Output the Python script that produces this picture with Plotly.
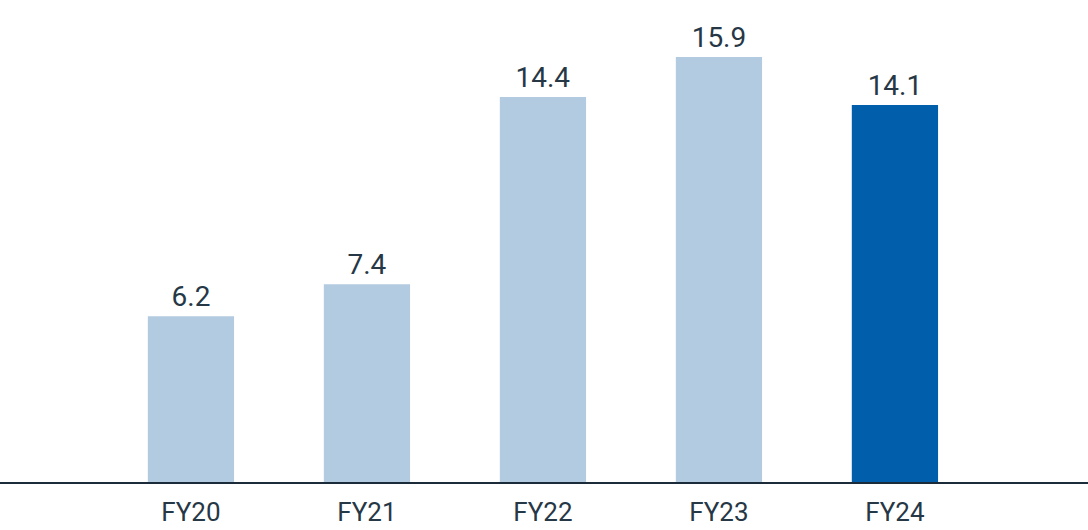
import plotly.graph_objects as go

years = ['FY20', 'FY21', 'FY22', 'FY23', 'FY24']
values = [6.2, 7.4, 14.4, 15.9, 14.1]
labels = ['6.2', '7.4', '14.4', '15.9', '14.1']
bar_colors = ['#b3cbe1', '#b3cbe1', '#b3cbe1', '#b3cbe1', '#005eab']

text_color = '#263746'

fig = go.Figure(go.Bar(
    x=list(range(len(years))),
    y=values,
    text=labels,
    textposition='outside',
    textfont=dict(family='Roboto', size=28, color=text_color),
    marker=dict(color=bar_colors, line=dict(width=0)),
    width=0.49,
    cliponaxis=False,
))

fig.update_xaxes(
    range=[-1.085, 5.097],
    tickvals=list(range(len(years))),
    ticktext=years,
    tickfont=dict(family='Roboto', size=26, color=text_color),
    showgrid=False,
    showline=True, linecolor='#1c2b3a', linewidth=2,
    ticks='', ticklabelstandoff=6,
    zeroline=False,
)
fig.update_yaxes(range=[0, 18.03], visible=False, showgrid=False, zeroline=False)

fig.update_layout(
    width=1088, height=530,
    margin=dict(l=0, r=0, t=0, b=48),
    plot_bgcolor='white', paper_bgcolor='white',
    showlegend=False,
)

# page body has a default 8px margin; drop it so the chart fills the window
fig.write_html("out.html", config={'displayModeBar': False},
               post_script="document.body.style.margin='0';")
